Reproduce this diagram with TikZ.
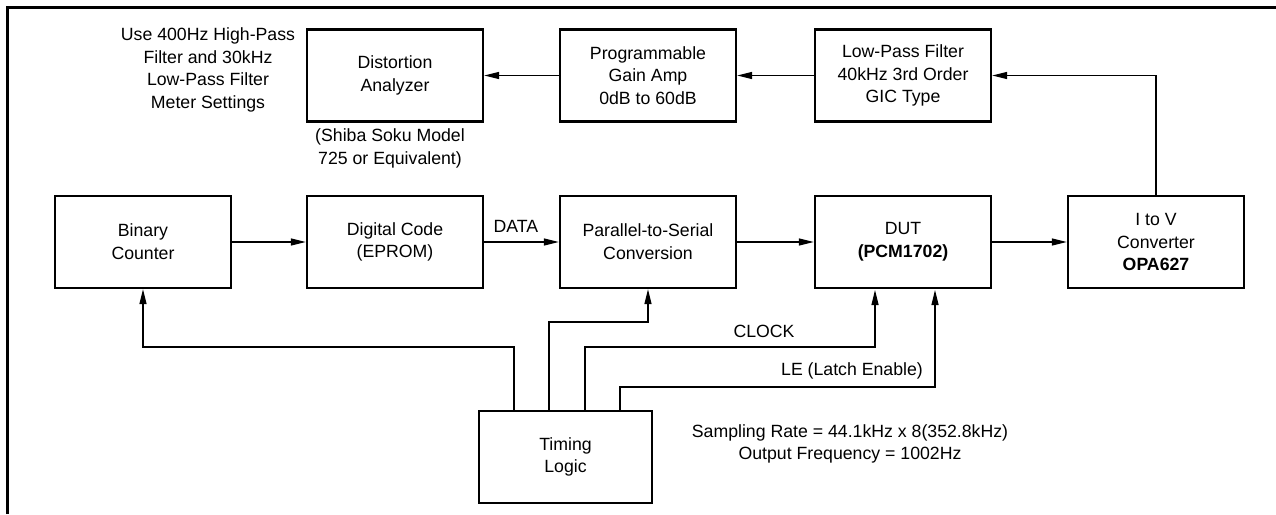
\documentclass[tikz,border=0pt]{standalone}
\usepackage{fontspec}
\setmainfont{Liberation Sans}
\usetikzlibrary{arrows.meta}
\pgfdeclarelayer{edgelayer}
\pgfdeclarelayer{nodelayer}
\pgfsetlayers{edgelayer,nodelayer,main}
\tikzstyle{none} = [inner sep=0pt]
\tikzstyle{block} = [draw, line width=2.3pt, minimum width=176pt, minimum height=92pt, inner sep=0pt, align=center]
\tikzstyle{note} = [inner sep=0pt, align=center]
\tikzstyle{wire} = [line width=1.2pt, -{Triangle[length=15pt,width=7pt]}]
\tikzstyle{frame} = [line width=3pt]

\begin{document}
\begin{tikzpicture}[x=1pt, y=-1pt, font=\fontsize{17.7}{22.7}\selectfont]
	\useasboundingbox (0, 0) rectangle (1276, 514);
	\begin{pgfonlayer}{nodelayer}
		\node [style=block] (0) at (395, 75.5) {Distortion\\Analyzer};
		\node [style=block] (1) at (648, 75.5) {Programmable\\Gain Amp\\0dB to 60dB};
		\node [style=block] (2) at (903, 75.5) {Low-Pass Filter\\40kHz 3rd Order\\GIC Type};
		\node [style=block] (3) at (143, 242) {Binary\\Counter};
		\node [style=block] (4) at (395, 242) {Digital Code\\(EPROM)};
		\node [style=block] (5) at (648, 242) {Parallel-to-Serial\\Conversion};
		\node [style=block] (6) at (903, 242) {DUT\\\textbf{(PCM1702)}};
		\node [style=block] (7) at (1156, 242) {I to V\\Converter\\\textbf{OPA627}};
		\node [style=block, minimum width=173pt] (8) at (565.5, 457) {Timing\\Logic};
		\node [style=note] (9) at (208, 70) {Use 400Hz High-Pass\\Filter and 30kHz\\Low-Pass Filter\\Meter Settings};
		\node [style=note] (10) at (390, 148.5) {(Shiba Soku Model\\725 or Equivalent)};
		\node [style=note] (11) at (516, 226) {DATA};
		\node [style=note] (12) at (764, 331) {CLOCK};
		\node [style=note] (13) at (852, 371) {LE (Latch Enable)};
		\node [style=note] (14) at (850, 444) {Sampling Rate = 44.1kHz x 8(352.8kHz)\\Output Frequency = 1002Hz};
		\node [style=none] (15) at (514, 411) {};
		\node [style=none] (16) at (514, 347) {};
		\node [style=none] (17) at (143, 347) {};
		\node [style=none] (18) at (549, 411) {};
		\node [style=none] (19) at (549, 322) {};
		\node [style=none] (20) at (648, 322) {};
		\node [style=none] (21) at (585, 411) {};
		\node [style=none] (22) at (585, 347) {};
		\node [style=none] (23) at (875, 347) {};
		\node [style=none] (24) at (875, 290) {};
		\node [style=none] (25) at (620, 411) {};
		\node [style=none] (26) at (620, 387) {};
		\node [style=none] (27) at (935, 387) {};
		\node [style=none] (28) at (935, 290) {};
		\node [style=none] (29) at (1156, 75.5) {};
	\end{pgfonlayer}
	\begin{pgfonlayer}{edgelayer}
		\draw [style=frame] (7, 514) to (7, 7) to (1276, 7);
		\draw [style=wire] (2) to (1);
		\draw [style=wire] (1) to (0);
		\draw [style=wire] (3) to (4);
		\draw [style=wire] (4) to (5);
		\draw [style=wire] (5) to (6);
		\draw [style=wire] (6) to (7);
		\draw [style=wire] (7) to (29.center) to (2);
		\draw [style=wire] (15.center) to (16.center) to (17.center) to (3);
		\draw [style=wire] (18.center) to (19.center) to (20.center) to (5);
		\draw [style=wire] (21.center) to (22.center) to (23.center) to (24.center);
		\draw [style=wire] (25.center) to (26.center) to (27.center) to (28.center);
	\end{pgfonlayer}
\end{tikzpicture}
\end{document}
